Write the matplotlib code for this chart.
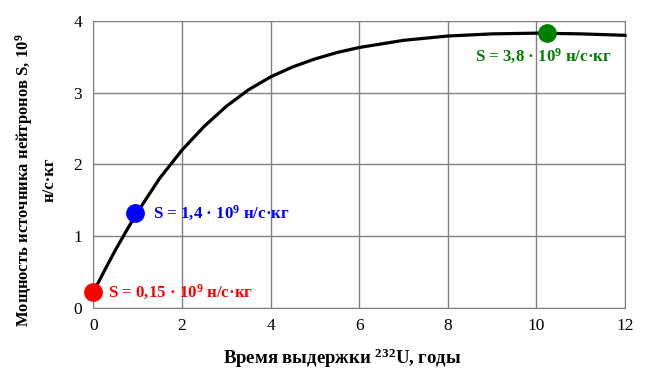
import matplotlib
matplotlib.use("Agg")
import matplotlib.pyplot as plt

plt.rcParams['font.family'] = ['Liberation Serif', 'DejaVu Serif']
plt.rcParams['mathtext.fontset'] = 'custom'
plt.rcParams['mathtext.rm'] = 'Liberation Serif'
plt.rcParams['mathtext.bf'] = 'Liberation Serif:bold'
plt.rcParams['mathtext.it'] = 'Liberation Serif:italic'

# Data
years = [0, 0.25, 0.5, 0.75, 1, 1.5, 2, 2.5, 3, 3.5, 4, 4.5, 5, 5.5, 6, 7, 8, 9, 10, 11, 12]
source = [0.22, 0.52, 0.81, 1.08, 1.34, 1.81, 2.20, 2.53, 2.81, 3.04, 3.22, 3.36, 3.47,
          3.56, 3.63, 3.73, 3.79, 3.82, 3.83, 3.82, 3.80]

point_x = [0.0, 0.94, 10.23]
point_y = [0.22, 1.32, 3.83]
point_colors = ['#FF0000', '#0000FF', '#008000']
point_labels = [r'S = 0,15 · $\mathbf{10^{9}}$ н/с·кг',
                r'S = 1,4 · $\mathbf{10^{9}}$ н/с·кг',
                r'S = 3,8 · $\mathbf{10^{9}}$ н/с·кг']
label_pos = [(0.33, 0.22), (1.35, 1.32), (8.61, 3.50)]

fig = plt.figure(figsize=(6.46, 3.81), dpi=100)
ax = fig.add_axes([0.1445, 0.1916, 0.8230, 0.7534])

ax.plot(years, source, color='black', lw=2.3, zorder=3, clip_on=False)
for x, y, c in zip(point_x, point_y, point_colors):
    ax.plot(x, y, 'o', color=c, markersize=12.5, zorder=4, clip_on=False)
for (tx, ty), lab, c in zip(label_pos, point_labels, point_colors):
    ax.text(tx, ty, lab, color=c, fontsize=12.2, fontweight='bold', va='center', ha='left', zorder=5)

ax.set_xlim(0, 12)
ax.set_ylim(0, 4)
ax.set_xticks(range(0, 13, 2))
ax.set_yticks(range(0, 5))
ax.grid(True, color='#808080', lw=1)
ax.set_axisbelow(True)
for s in ax.spines.values():
    s.set_color('#808080')
ax.tick_params(length=0, labelsize=12.5)
ax.tick_params(axis='y', pad=8)
ax.tick_params(axis='x', pad=7)

ax.set_xlabel(r'Время выдержки $\mathbf{^{232}}$U, годы', fontsize=13.5, fontweight='bold')
ax.xaxis.set_label_coords(0.469, -0.135)
ax.set_ylabel('Мощность источника нейтронов S, $\\mathbf{10^{9}}$\nн/с·кг', fontsize=12,
              fontweight='bold', linespacing=1.5)
ax.yaxis.set_label_coords(-0.068, 0.446)

fig.savefig('out.png', dpi=100)
